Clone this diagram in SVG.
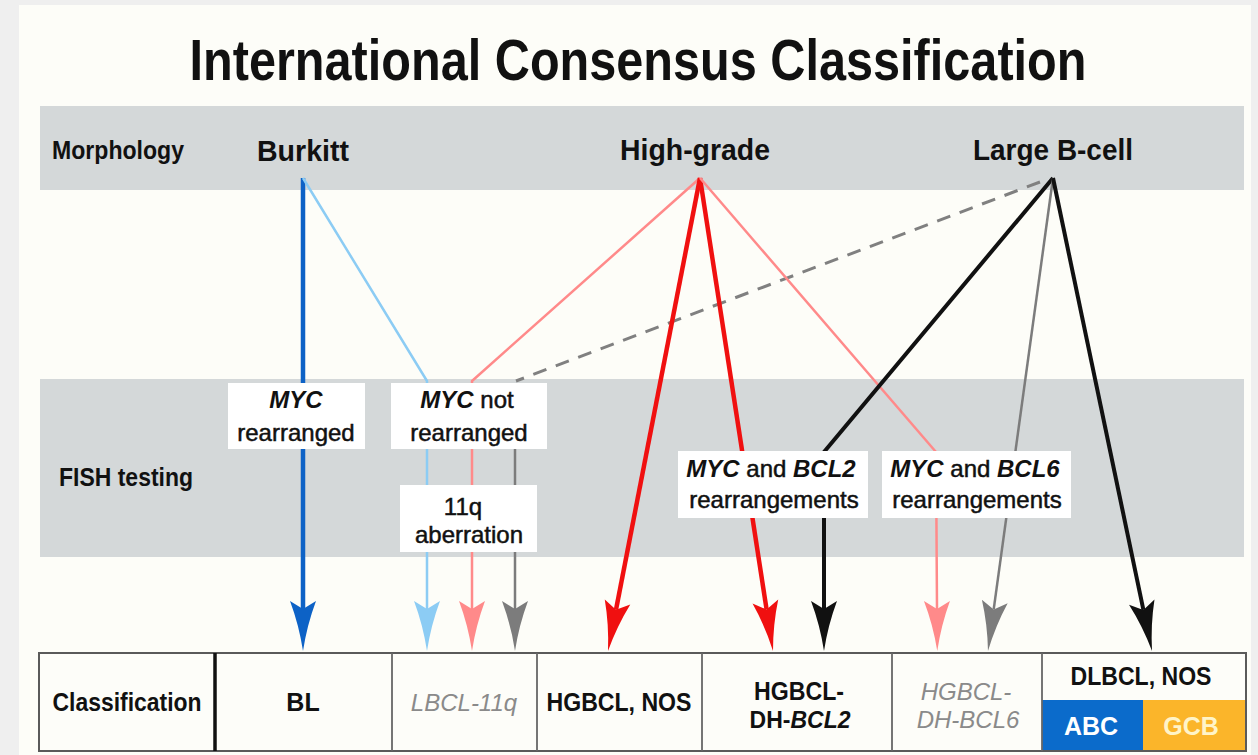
<svg xmlns="http://www.w3.org/2000/svg" width="1258" height="755" viewBox="0 0 1258 755">
<defs>
<style>
text{font-family:"Liberation Sans",Arial,Helvetica,sans-serif;fill:#111;}
.b{font-weight:bold;}
.i{font-style:italic;}
.g{fill:#8a8a8a;}
.w{fill:#ffffff;}
.t{stroke:#111;stroke-width:0.5;}
.band{fill:#d4d8d9;}
.box{fill:#ffffff;}
.c{fill:none;stroke-linejoin:round;stroke-linecap:butt;}
.vline{stroke:#666;stroke-width:1.8;}
</style>
<marker id="m-blue" viewBox="-10 -15 55 30" refX="0" refY="0" markerWidth="55" markerHeight="30" markerUnits="userSpaceOnUse" orient="auto"><path d="M0,0 L-8,-13 Q16,-4 42,0 Q16,4 -8,13 Z" fill="#0d62c6"/></marker>
<marker id="m-lblue" viewBox="-10 -15 55 30" refX="0" refY="0" markerWidth="55" markerHeight="30" markerUnits="userSpaceOnUse" orient="auto"><path d="M0,0 L-8,-13 Q16,-4 42,0 Q16,4 -8,13 Z" fill="#8cccf4"/></marker>
<marker id="m-pink" viewBox="-10 -15 55 30" refX="0" refY="0" markerWidth="55" markerHeight="30" markerUnits="userSpaceOnUse" orient="auto"><path d="M0,0 L-8,-13 Q16,-4 42,0 Q16,4 -8,13 Z" fill="#ff8a8a"/></marker>
<marker id="m-gray" viewBox="-10 -15 55 30" refX="0" refY="0" markerWidth="55" markerHeight="30" markerUnits="userSpaceOnUse" orient="auto"><path d="M0,0 L-8,-13 Q16,-4 42,0 Q16,4 -8,13 Z" fill="#7c7c7c"/></marker>
<marker id="m-red" viewBox="-10 -15 55 30" refX="0" refY="0" markerWidth="55" markerHeight="30" markerUnits="userSpaceOnUse" orient="auto"><path d="M0,0 L-8,-13 Q16,-4 42,0 Q16,4 -8,13 Z" fill="#f01010"/></marker>
<marker id="m-black" viewBox="-10 -15 55 30" refX="0" refY="0" markerWidth="55" markerHeight="30" markerUnits="userSpaceOnUse" orient="auto"><path d="M0,0 L-8,-13 Q16,-4 42,0 Q16,4 -8,13 Z" fill="#111"/></marker>
</defs>

<rect x="0" y="0" width="1258" height="755" fill="#efefef"/>
<rect x="19" y="5" width="1232" height="750" fill="#fdfdf8"/>

<text id="title" class="b" x="638" y="80" font-size="57" text-anchor="middle" textLength="897" lengthAdjust="spacingAndGlyphs">International Consensus Classification</text>

<g id="bands">
<rect class="band" x="40" y="106" width="1204" height="84"/>
<rect class="band" x="40" y="379" width="1204" height="178"/>
<text class="b" x="52" y="159" font-size="25" textLength="132" lengthAdjust="spacingAndGlyphs">Morphology</text>
<text class="b" x="59" y="486" font-size="25" textLength="134" lengthAdjust="spacingAndGlyphs">FISH testing</text>
</g>

<g id="connectors">
<polyline class="c" points="303,178 303,609" stroke="#0d62c6" stroke-width="4.5" marker-end="url(#m-blue)"/>
<polyline class="c" points="303,178 427,381 427,609" stroke="#8cccf4" stroke-width="2.5" marker-end="url(#m-lblue)"/>
<polyline class="c" points="700,178 472,381 472,609" stroke="#ff8a8a" stroke-width="2.5" marker-end="url(#m-pink)"/>
<line class="c" x1="1040" y1="182" x2="516" y2="381" stroke="#808080" stroke-width="3" stroke-dasharray="14,10"/>
<polyline class="c" points="515,383 515,609" stroke="#7c7c7c" stroke-width="2.5" marker-end="url(#m-gray)"/>
<line class="c" x1="700" y1="178" x2="616" y2="609.8" stroke="#f01010" stroke-width="4.5" marker-end="url(#m-red)"/>
<line class="c" x1="700" y1="178" x2="766.6" y2="609.5" stroke="#f01010" stroke-width="4.5" marker-end="url(#m-red)"/>
<polyline class="c" points="700,178 936,452 937,609" stroke="#ff8a8a" stroke-width="2.5" marker-end="url(#m-pink)"/>
<polyline class="c" points="1053,178 824,452 824,609" stroke="#111" stroke-width="4" marker-end="url(#m-black)"/>
<line class="c" x1="1053" y1="178" x2="993.7" y2="609.4" stroke="#7c7c7c" stroke-width="2.5" marker-end="url(#m-gray)"/>
<line class="c" x1="1053" y1="178" x2="1143.4" y2="609.9" stroke="#111" stroke-width="4" marker-end="url(#m-black)"/>
</g>

<g id="burkitt"><text class="b" x="303" y="161" font-size="30" text-anchor="middle" textLength="92" lengthAdjust="spacingAndGlyphs">Burkitt</text></g>
<g id="high-grade"><text class="b" x="695" y="160" font-size="30" text-anchor="middle" textLength="150" lengthAdjust="spacingAndGlyphs">High-grade</text></g>
<g id="large-b-cell"><text class="b" x="1053" y="160" font-size="30" text-anchor="middle" textLength="160" lengthAdjust="spacingAndGlyphs">Large B-cell</text></g>

<g id="myc-rearranged">
<rect class="box" x="228" y="383" width="137" height="66"/>
<text x="296" y="408" font-size="24" text-anchor="middle" class="b i">MYC</text>
<text class="t" x="296" y="441" font-size="24" text-anchor="middle">rearranged</text>
</g>
<g id="myc-not-rearranged">
<rect class="box" x="391" y="383" width="156" height="66"/>
<text class="t" x="467" y="408" font-size="24" text-anchor="middle"><tspan class="b i" stroke="none">MYC</tspan> not</text>
<text class="t" x="469" y="441" font-size="24" text-anchor="middle">rearranged</text>
</g>
<g id="aberration-11q">
<rect class="box" x="400" y="485" width="137" height="67"/>
<text class="t" x="463" y="515" font-size="24" text-anchor="middle">11q</text>
<text class="t" x="469" y="543" font-size="24" text-anchor="middle">aberration</text>
</g>
<g id="myc-bcl2">
<rect class="box" x="678" y="451" width="190" height="67"/>
<text class="t" x="771" y="477" font-size="24" text-anchor="middle"><tspan class="b i" stroke="none">MYC</tspan> and <tspan class="b i" stroke="none">BCL2</tspan></text>
<text class="t" x="774" y="508" font-size="24" text-anchor="middle">rearrangements</text>
</g>
<g id="myc-bcl6">
<rect class="box" x="882" y="451" width="189" height="67"/>
<text class="t" x="975" y="477" font-size="24" text-anchor="middle"><tspan class="b i" stroke="none">MYC</tspan> and <tspan class="b i" stroke="none">BCL6</tspan></text>
<text class="t" x="977" y="508" font-size="24" text-anchor="middle">rearrangements</text>
</g>

<g id="classification-table">
<rect x="39" y="653" width="1207" height="98" fill="#fdfdf9" stroke="#5a5a5a" stroke-width="2"/>
<rect x="1042" y="700" width="101" height="50" fill="#0b6bcb"/>
<rect x="1143" y="700" width="102" height="50" fill="#fbb52a"/>
<line x1="215" y1="653" x2="215" y2="751" stroke="#111" stroke-width="3.5"/>
<line class="vline" x1="392" y1="653" x2="392" y2="751"/>
<line class="vline" x1="537" y1="653" x2="537" y2="751"/>
<line class="vline" x1="702" y1="653" x2="702" y2="751"/>
<line class="vline" x1="892" y1="653" x2="892" y2="751"/>
<line class="vline" x1="1042" y1="653" x2="1042" y2="751"/>
</g>
<g id="cell-classification"><text class="b" x="127" y="711" font-size="25" text-anchor="middle" textLength="149" lengthAdjust="spacingAndGlyphs">Classification</text></g>
<g id="cell-bl"><text class="b" x="303" y="711" font-size="25" text-anchor="middle">BL</text></g>
<g id="cell-lbcl-11q"><text class="i g" x="464" y="711" font-size="24" text-anchor="middle">LBCL-11q</text></g>
<g id="cell-hgbcl-nos"><text class="b" x="619" y="711" font-size="25" text-anchor="middle" textLength="145" lengthAdjust="spacingAndGlyphs">HGBCL, NOS</text></g>
<g id="cell-hgbcl-dh-bcl2">
<text class="b" x="799" y="700" font-size="25" text-anchor="middle" textLength="90" lengthAdjust="spacingAndGlyphs">HGBCL-</text>
<text class="b" x="800" y="728" font-size="23" text-anchor="middle">DH-<tspan class="i">BCL2</tspan></text>
</g>
<g id="cell-hgbcl-dh-bcl6">
<text class="i g" x="966" y="700" font-size="24" text-anchor="middle">HGBCL-</text>
<text class="i g" x="968" y="728" font-size="24" text-anchor="middle">DH-BCL6</text>
</g>
<g id="cell-dlbcl-nos">
<text class="b" x="1141" y="685" font-size="25" text-anchor="middle" textLength="141" lengthAdjust="spacingAndGlyphs">DLBCL, NOS</text>
<text class="b w" x="1091" y="735" font-size="25" text-anchor="middle">ABC</text>
<text class="b" x="1191" y="735" font-size="25" text-anchor="middle" style="fill:#fff4c8">GCB</text>
</g>
</svg>
